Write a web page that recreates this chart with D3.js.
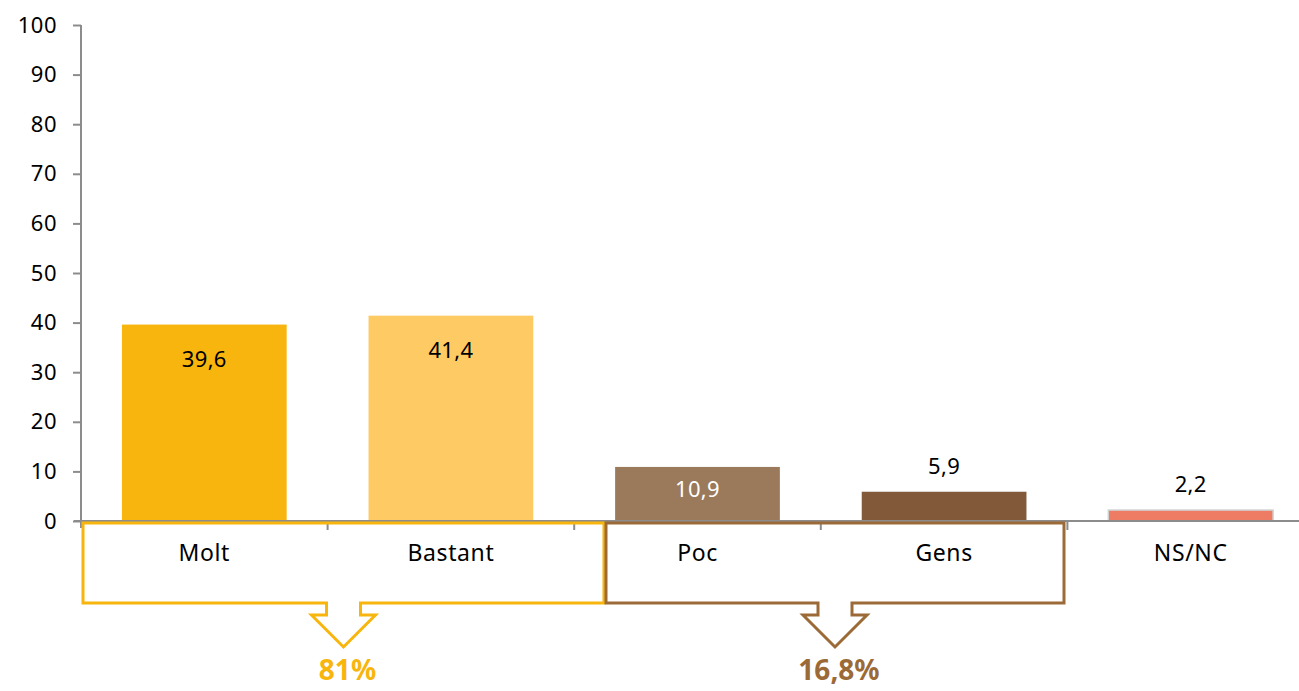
<!DOCTYPE html>
<html>
<head>
<meta charset="utf-8">
<script src="https://cdn.jsdelivr.net/npm/d3@7"></script>
<style>
  body { margin: 0; background: #fff; }
  text { font-family: "Noto Sans", sans-serif; }
</style>
</head>
<body>
<div class="chart"></div>
<script>
// data
var categories = ["Molt", "Bastant", "Poc", "Gens", "NS/NC"];
var values = [39.6, 41.4, 10.9, 5.9, 2.2];
var barColors = ["#F8B50D", "#FDCA64", "#9A7A5A", "#825A3A", "#EE7B63"];
var labelColors = ["#000", "#000", "#fff", "#000", "#000"];
var yTicks = [0, 10, 20, 30, 40, 50, 60, 70, 80, 90, 100];
var groupLabels = ["81%", "16,8%"];
var groupColors = ["#F8B50D", "#9B6A36"];

var svgWidth = 1299, svgHeight = 691;

var svg = d3.select(".chart")
  .append("svg")
  .attr("width", svgWidth)
  .attr("height", svgHeight);

var xScale = d3.scaleBand()
  .domain(categories)
  .range([81, 1314])
  .paddingInner(0.332)
  .paddingOuter(0.166);

var yScale = d3.scaleLinear()
  .domain([0, 100])
  .range([521, 25]);

var fmt = function(v) { return String(v).replace(".", ","); };

// bars
svg.append("g").selectAll("rect")
  .data(values)
  .enter()
  .append("rect")
  .attr("x", (d, i) => xScale(categories[i]))
  .attr("y", d => yScale(d))
  .attr("width", xScale.bandwidth())
  .attr("height", d => yScale(0) - yScale(d))
  .attr("fill", (d, i) => barColors[i])
  .attr("stroke", (d, i) => i == 4 ? "#d0d0d0" : "none")
  .attr("stroke-width", 1.5);

// value labels: inside for big bars, above for small ones
svg.append("g").selectAll("text")
  .data(values)
  .enter()
  .append("text")
  .attr("x", (d, i) => xScale(categories[i]) + xScale.bandwidth() / 2)
  .attr("y", function(d) {
    if (d > 20) return yScale(d) + 42;
    if (d > 10) return yScale(d) + 30;
    return yScale(d) - 18;
  })
  .attr("text-anchor", "middle")
  .attr("font-size", 22)
  .attr("letter-spacing", 0.3)
  .attr("fill", (d, i) => labelColors[i])
  .text(d => fmt(d));

// y axis
var yAxis = svg.append("g")
  .attr("transform", "translate(81,0)")
  .call(d3.axisLeft(yScale).tickValues(yTicks).tickSize(8).tickPadding(16));
yAxis.select(".domain").attr("stroke", "#8c8c8c").attr("stroke-width", 2)
  .attr("d", "M0,25V528");
yAxis.selectAll(".tick line").attr("stroke", "#8c8c8c").attr("stroke-width", 2);
yAxis.selectAll(".tick text")
  .attr("font-size", 22)
  .attr("letter-spacing", 0.5)
  .attr("fill", "#000")
  .style("font-family", "'Noto Sans', sans-serif");

// x axis line and band separators
svg.append("line")
  .attr("x1", 74).attr("x2", 1299)
  .attr("y1", yScale(0)).attr("y2", yScale(0))
  .attr("stroke", "#8c8c8c").attr("stroke-width", 2);

svg.append("g").selectAll("line")
  .data(categories.slice(1))
  .enter()
  .append("line")
  .attr("x1", (d) => xScale(d) - xScale.step() * xScale.paddingInner() / 2)
  .attr("x2", (d) => xScale(d) - xScale.step() * xScale.paddingInner() / 2)
  .attr("y1", yScale(0)).attr("y2", yScale(0) + 9)
  .attr("stroke", "#8c8c8c").attr("stroke-width", 2);

// category labels
svg.append("g").selectAll("text")
  .data(categories)
  .enter()
  .append("text")
  .attr("x", d => xScale(d) + xScale.bandwidth() / 2)
  .attr("y", 561)
  .attr("text-anchor", "middle")
  .attr("font-size", 23)
  .attr("letter-spacing", 0.6)
  .attr("fill", "#000")
  .text(d => d);

// group brackets with arrows
var boxes = [[83, 604], [606, 1064]];
var boxTop = 523, boxBottom = 603;

boxes.forEach(function(b, i) {
  var cx = (b[0] + b[1]) / 2;
  var path = d3.path();
  path.moveTo(b[0], boxTop);
  path.lineTo(b[1], boxTop);
  path.lineTo(b[1], boxBottom);
  path.lineTo(cx + 17, boxBottom);
  path.lineTo(cx + 17, boxBottom + 12);
  path.lineTo(cx + 32, boxBottom + 12);
  path.lineTo(cx, boxBottom + 44);
  path.lineTo(cx - 32, boxBottom + 12);
  path.lineTo(cx - 17, boxBottom + 12);
  path.lineTo(cx - 17, boxBottom);
  path.lineTo(b[0], boxBottom);
  path.closePath();

  svg.append("path")
    .attr("d", path.toString())
    .attr("fill", "none")
    .attr("stroke", groupColors[i])
    .attr("stroke-width", 3);

  svg.append("text")
    .attr("x", cx + 4)
    .attr("y", 680)
    .attr("text-anchor", "middle")
    .attr("font-size", 28)
    .attr("font-weight", "bold")
    .attr("fill", groupColors[i])
    .text(groupLabels[i]);
});
</script>
</body>
</html>
